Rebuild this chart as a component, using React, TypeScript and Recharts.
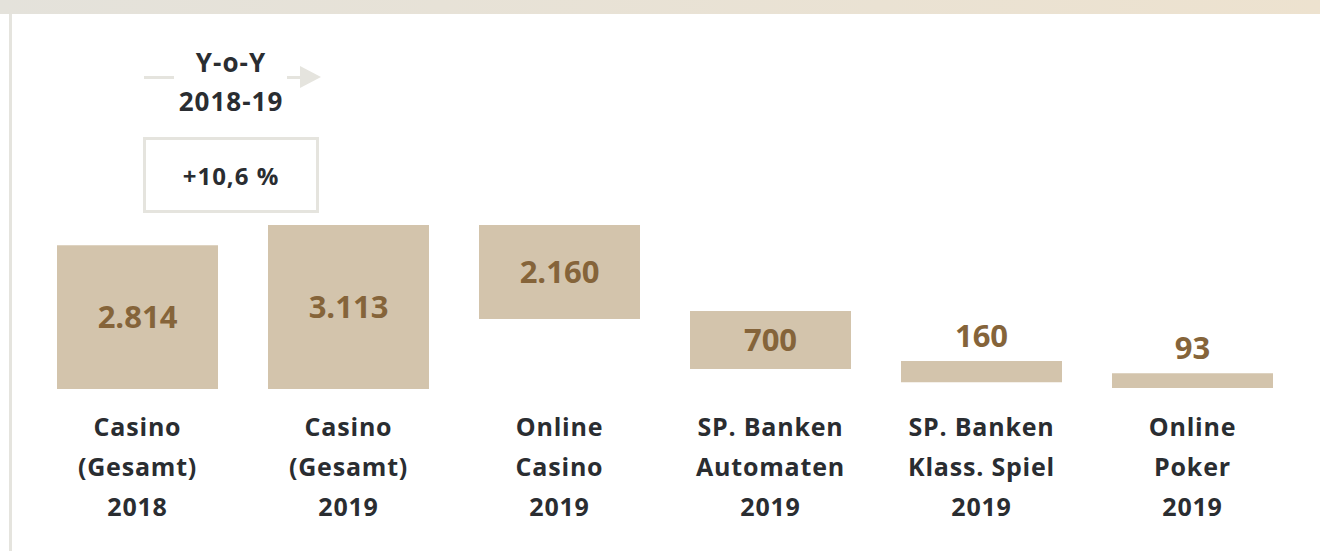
import { BarChart, Bar, XAxis, YAxis, LabelList } from 'recharts';

const categories = ['Casino 2018', 'Casino 2019', 'Online Casino', 'SP. Automaten', 'SP. Klass. Spiel', 'Online Poker'];
const tickLines = [
  ['Casino', '(Gesamt)', '2018'],
  ['Casino', '(Gesamt)', '2019'],
  ['Online', 'Casino', '2019'],
  ['SP. Banken', 'Automaten', '2019'],
  ['SP. Banken', 'Klass. Spiel', '2019'],
  ['Online', 'Poker', '2019'],
];
const values = [2814, 3113, 2160, 700, 160, 93];
// bar extents as drawn in the picture (stylised waterfall)
const barLow = [0, 0, 1330, 380, 130, 20];
const barHigh = [2730, 3113, 3113, 1480, 530, 300];

const data = categories.map((name, i) => ({ name, range: [barLow[i], barHigh[i]], value: values[i] }));

const FONT = '"Open Sans", sans-serif';
const BAR = '#d3c4ac';
const LABEL = '#85643a';
const TEXT = '#2a2d31';
const FRAME = '#e5e4de';

const fmt = (v: number) => String(v).replace(/\B(?=(\d{3})+(?!\d))/g, '.');

function Tick(props: any) {
  const { x, y, index } = props;
  const lines = tickLines[index] || [];
  return (
    <g>
      {lines.map((l, i) => (
        <text key={i} x={x} y={y + 47 + i * 40} textAnchor="middle" fill={TEXT}
          style={{ fontFamily: FONT, fontSize: 25, fontWeight: 700, letterSpacing: 0.8 }}>
          {l}
        </text>
      ))}
    </g>
  );
}

function ValueLabel(props: any) {
  const { x, y, width, height, index } = props;
  const inside = index < 4;
  const ty = inside ? y + height / 2 + 11 : y - 14;
  return (
    <text x={x + width / 2} y={ty} textAnchor="middle" fill={LABEL}
      style={{ fontFamily: FONT, fontSize: 31, fontWeight: 700 }}>
      {fmt(values[index])}
    </text>
  );
}

export default function App() {
  return (
    <div style={{ position: 'absolute', left: 0, top: 0, width: 1320, height: 551, background: '#fff', overflow: 'hidden', fontFamily: FONT }}>
      <div style={{ position: 'absolute', left: 0, top: 0, width: 1320, height: 14, background: 'linear-gradient(90deg, #e4e2db, #ede2cf)' }} />
      <div style={{ position: 'absolute', left: 9, top: 14, width: 3, height: 537, background: FRAME }} />

      <div style={{ position: 'absolute', left: 131, top: 43, width: 200, textAlign: 'center', color: TEXT, fontSize: 26, fontWeight: 700, lineHeight: '39px', letterSpacing: 1 }}>
        <div>Y-o-Y</div>
        <div>2018-19</div>
      </div>
      <div style={{ position: 'absolute', left: 144, top: 76, width: 30, height: 3, background: FRAME }} />
      <div style={{ position: 'absolute', left: 287, top: 76, width: 14, height: 3, background: FRAME }} />
      <div style={{ position: 'absolute', left: 300, top: 66, width: 0, height: 0, borderTop: '11.5px solid transparent', borderBottom: '11.5px solid transparent', borderLeft: `21px solid ${FRAME}` }} />
      <div style={{ position: 'absolute', left: 143, top: 137, width: 170, height: 70, border: `3px solid ${FRAME}`, display: 'flex', alignItems: 'center', justifyContent: 'center', color: TEXT, fontSize: 24, fontWeight: 700, letterSpacing: 1 }}>
        +10,6 %
      </div>

      <div style={{ position: 'absolute', left: 0, top: 0 }}>
        <BarChart width={1320} height={551} data={data} margin={{ top: 225, right: 22, bottom: 12, left: 32 }}>
          <XAxis dataKey="name" height={150} axisLine={false} tickLine={false} tickSize={0} tickMargin={0} interval={0} tick={<Tick />} />
          <YAxis hide domain={[0, 3113]} />
          <Bar dataKey="range" fill={BAR} barSize={161} isAnimationActive={false}>
            <LabelList dataKey="value" content={<ValueLabel />} />
          </Bar>
        </BarChart>
      </div>
    </div>
  );
}
